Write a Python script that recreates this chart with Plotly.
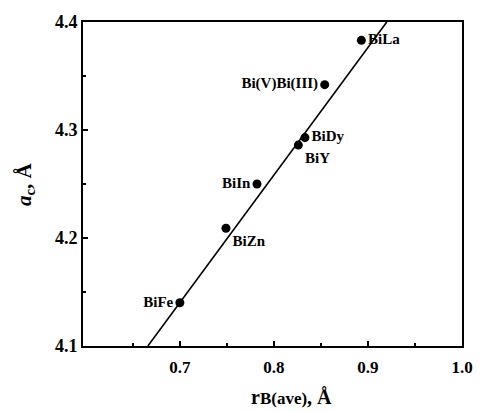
import plotly.graph_objects as go

# Data
names = ["BiFe", "BiZn", "BiIn", "BiY", "BiDy", "Bi(V)Bi(III)", "BiLa"]
r_b = [0.700, 0.749, 0.782, 0.826, 0.833, 0.854, 0.893]
a_c = [4.140, 4.209, 4.250, 4.286, 4.293, 4.342, 4.383]
fit_x = [0.666, 0.920]
fit_y = [4.100, 4.400]
label_pos = ["middle left", "bottom right", "middle left", "bottom right",
             "middle right", "middle left", "middle right"]
x_ticks = [0.7, 0.8, 0.9, 1.0]
y_ticks = [4.1, 4.2, 4.3, 4.4]

font_serif = "Liberation Serif, Times New Roman, serif"

fig = go.Figure()
fig.add_trace(go.Scatter(x=fit_x, y=fit_y, mode="lines",
                         line=dict(color="black", width=1.6),
                         showlegend=False, hoverinfo="skip"))
fig.add_trace(go.Scatter(x=r_b, y=a_c, mode="markers+text",
                         marker=dict(color="black", size=9),
                         text=["<b>%s</b>" % n for n in names],
                         textposition=label_pos,
                         textfont=dict(family=font_serif, size=15, color="black"),
                         showlegend=False))

axis_common = dict(showline=True, linecolor="black", linewidth=2, mirror=True,
                   ticks="inside", ticklen=5, tickwidth=1.5, tickcolor="black",
                   showgrid=False, zeroline=False)

fig.update_xaxes(range=[0.597, 1.0], tickvals=x_ticks,
                 ticktext=["<b>%.1f</b>" % v for v in x_ticks],
                 tickfont=dict(family=font_serif, size=17, color="black"),
                 ticklabelstandoff=5,
                 minor=dict(ticks="inside", ticklen=3, tickcolor="black",
                            tickvals=[0.65, 0.75, 0.85, 0.95]),
                 **axis_common)
fig.update_yaxes(range=[4.1, 4.4], tickvals=y_ticks,
                 ticktext=["<b>%.1f</b>" % v for v in y_ticks],
                 tickfont=dict(family=font_serif, size=18, color="black"),
                 minor=dict(ticks="inside", ticklen=3, tickcolor="black",
                            tickvals=[4.15, 4.25, 4.35]),
                 **axis_common)

fig.update_layout(
    width=485, height=412,
    margin=dict(l=83, r=17, t=18, b=66),
    plot_bgcolor="white", paper_bgcolor="white",
    font=dict(family=font_serif, color="black"),
    annotations=[
        dict(text="<b>r</b><b style='font-size:17px'>B(ave)</b><b>, Å</b>",
             xref="paper", yref="paper", x=0.55, y=-0.197,
             xanchor="center", yanchor="bottom", showarrow=False,
             font=dict(family=font_serif, size=20, color="black")),
        dict(text="<b><i>a</i><sub>c</sub>, Å</b>",
             xref="paper", yref="paper", x=-0.153, y=0.5,
             xanchor="center", yanchor="middle", showarrow=False, textangle=-90,
             font=dict(family=font_serif, size=21, color="black")),
    ],
)

fig.write_html("out.html", config={"displayModeBar": False},
               post_script="document.body.style.margin='0';document.body.style.overflow='hidden';")
